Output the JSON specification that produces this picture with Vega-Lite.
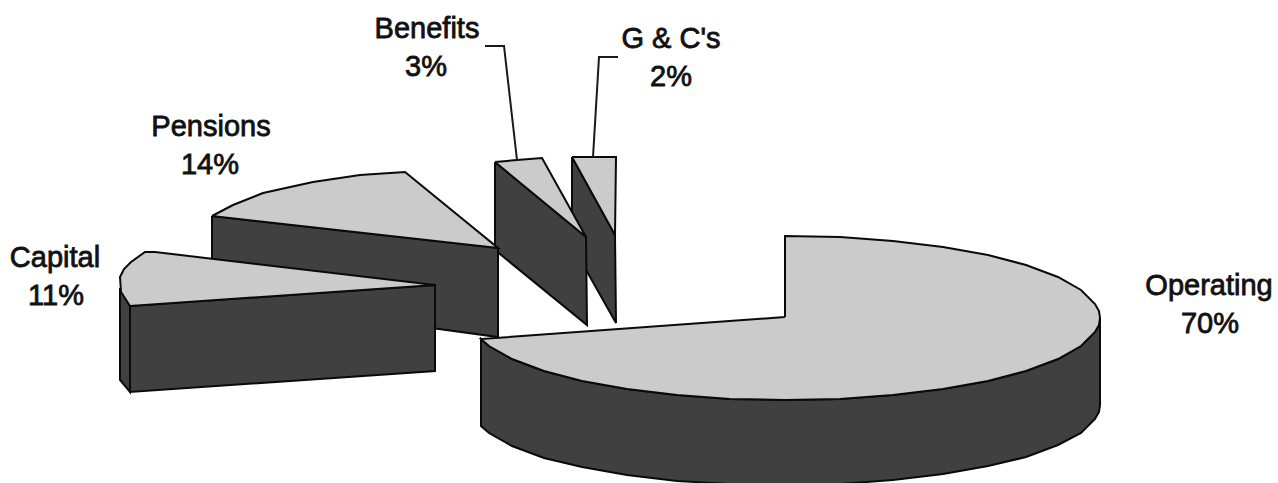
{
  "$schema": "https://vega.github.io/schema/vega-lite/v6.json",
  "width": 1278,
  "height": 483,
  "padding": 0,
  "autosize": {"type": "none"},
  "background": "white",
  "config": {"view": {"stroke": null}},
  "datasets": {
    "faces": [
      {"piece":"gc-side","face":"side","i":0,"x":572,"y":157},{"piece":"gc-side","face":"side","i":1,"x":615,"y":235},{"piece":"gc-side","face":"side","i":2,"x":616,"y":323},{"piece":"gc-side","face":"side","i":3,"x":572,"y":245},{"piece":"gc-side","face":"side","i":4,"x":572,"y":157},
      {"piece":"gc-top","face":"top","i":0,"x":572,"y":157},{"piece":"gc-top","face":"top","i":1,"x":616,"y":157},{"piece":"gc-top","face":"top","i":2,"x":615,"y":235},{"piece":"gc-top","face":"top","i":3,"x":572,"y":157},
      {"piece":"ben-side","face":"side","i":0,"x":495,"y":162},{"piece":"ben-side","face":"side","i":1,"x":586,"y":237},{"piece":"ben-side","face":"side","i":2,"x":587,"y":325},{"piece":"ben-side","face":"side","i":3,"x":495,"y":250},{"piece":"ben-side","face":"side","i":4,"x":495,"y":162},
      {"piece":"ben-top","face":"top","i":0,"x":495,"y":162},{"piece":"ben-top","face":"top","i":1,"x":517,"y":160},{"piece":"ben-top","face":"top","i":2,"x":542,"y":158},{"piece":"ben-top","face":"top","i":3,"x":586,"y":237},{"piece":"ben-top","face":"top","i":4,"x":495,"y":162},
      {"piece":"pen-side","face":"side","i":0,"x":212,"y":216},{"piece":"pen-side","face":"side","i":1,"x":498,"y":248},{"piece":"pen-side","face":"side","i":2,"x":498,"y":337},{"piece":"pen-side","face":"side","i":3,"x":212,"y":298},{"piece":"pen-side","face":"side","i":4,"x":212,"y":216},
      {"piece":"pen-top","face":"top","i":0,"x":212,"y":216},{"piece":"pen-top","face":"top","i":1,"x":233,"y":205},{"piece":"pen-top","face":"top","i":2,"x":263,"y":193},{"piece":"pen-top","face":"top","i":3,"x":313,"y":182},{"piece":"pen-top","face":"top","i":4,"x":360,"y":175},{"piece":"pen-top","face":"top","i":5,"x":405,"y":172},{"piece":"pen-top","face":"top","i":6,"x":498,"y":248},{"piece":"pen-top","face":"top","i":7,"x":212,"y":216},
      {"piece":"cap-rim","face":"side","i":0,"x":120,"y":288},{"piece":"cap-rim","face":"side","i":1,"x":130,"y":306},{"piece":"cap-rim","face":"side","i":2,"x":130,"y":392},{"piece":"cap-rim","face":"side","i":3,"x":120,"y":380},{"piece":"cap-rim","face":"side","i":4,"x":120,"y":288},
      {"piece":"cap-front","face":"side","i":0,"x":130,"y":306},{"piece":"cap-front","face":"side","i":1,"x":435,"y":285},{"piece":"cap-front","face":"side","i":2,"x":435,"y":371},{"piece":"cap-front","face":"side","i":3,"x":130,"y":392},{"piece":"cap-front","face":"side","i":4,"x":130,"y":306},
      {"piece":"cap-top","face":"top","i":0,"x":435,"y":285},{"piece":"cap-top","face":"top","i":1,"x":130,"y":306},{"piece":"cap-top","face":"top","i":2,"x":121,"y":292},{"piece":"cap-top","face":"top","i":3,"x":120,"y":277},{"piece":"cap-top","face":"top","i":4,"x":124,"y":269},{"piece":"cap-top","face":"top","i":5,"x":131,"y":262},{"piece":"cap-top","face":"top","i":6,"x":145,"y":252},{"piece":"cap-top","face":"top","i":7,"x":155,"y":252},{"piece":"cap-top","face":"top","i":8,"x":435,"y":285},
      {"piece":"op-side","face":"side","i":0,"x":1100,"y":318},{"piece":"op-side","face":"side","i":1,"x":1099,"y":325},{"piece":"op-side","face":"side","i":2,"x":1095,"y":332},{"piece":"op-side","face":"side","i":3,"x":1081,"y":346},{"piece":"op-side","face":"side","i":4,"x":1058,"y":359},{"piece":"op-side","face":"side","i":5,"x":1026,"y":371},{"piece":"op-side","face":"side","i":6,"x":988,"y":381},{"piece":"op-side","face":"side","i":7,"x":943,"y":389},{"piece":"op-side","face":"side","i":8,"x":893,"y":395},{"piece":"op-side","face":"side","i":9,"x":840,"y":399},{"piece":"op-side","face":"side","i":10,"x":785,"y":400},{"piece":"op-side","face":"side","i":11,"x":730,"y":399},{"piece":"op-side","face":"side","i":12,"x":677,"y":395},{"piece":"op-side","face":"side","i":13,"x":627,"y":389},{"piece":"op-side","face":"side","i":14,"x":582,"y":381},{"piece":"op-side","face":"side","i":15,"x":544,"y":371},{"piece":"op-side","face":"side","i":16,"x":512,"y":359},{"piece":"op-side","face":"side","i":17,"x":489,"y":346},{"piece":"op-side","face":"side","i":18,"x":481,"y":339},
      {"piece":"op-side","face":"side","i":19,"x":481,"y":426},{"piece":"op-side","face":"side","i":20,"x":489,"y":433},{"piece":"op-side","face":"side","i":21,"x":512,"y":446},{"piece":"op-side","face":"side","i":22,"x":544,"y":458},{"piece":"op-side","face":"side","i":23,"x":582,"y":467},{"piece":"op-side","face":"side","i":24,"x":627,"y":475},{"piece":"op-side","face":"side","i":25,"x":677,"y":481},{"piece":"op-side","face":"side","i":26,"x":730,"y":484},{"piece":"op-side","face":"side","i":27,"x":785,"y":485},{"piece":"op-side","face":"side","i":28,"x":840,"y":484},{"piece":"op-side","face":"side","i":29,"x":893,"y":480},{"piece":"op-side","face":"side","i":30,"x":943,"y":474},{"piece":"op-side","face":"side","i":31,"x":988,"y":466},{"piece":"op-side","face":"side","i":32,"x":1026,"y":457},{"piece":"op-side","face":"side","i":33,"x":1058,"y":445},{"piece":"op-side","face":"side","i":34,"x":1081,"y":433},{"piece":"op-side","face":"side","i":35,"x":1095,"y":419},{"piece":"op-side","face":"side","i":36,"x":1099,"y":412},{"piece":"op-side","face":"side","i":37,"x":1100,"y":405},{"piece":"op-side","face":"side","i":38,"x":1100,"y":318},
      {"piece":"op-top","face":"top","i":0,"x":785,"y":317},{"piece":"op-top","face":"top","i":1,"x":785,"y":236},{"piece":"op-top","face":"top","i":2,"x":840,"y":237},{"piece":"op-top","face":"top","i":3,"x":893,"y":241},{"piece":"op-top","face":"top","i":4,"x":943,"y":247},{"piece":"op-top","face":"top","i":5,"x":988,"y":255},{"piece":"op-top","face":"top","i":6,"x":1026,"y":265},{"piece":"op-top","face":"top","i":7,"x":1058,"y":277},{"piece":"op-top","face":"top","i":8,"x":1081,"y":290},{"piece":"op-top","face":"top","i":9,"x":1095,"y":304},{"piece":"op-top","face":"top","i":10,"x":1099,"y":311},{"piece":"op-top","face":"top","i":11,"x":1100,"y":318},{"piece":"op-top","face":"top","i":12,"x":1099,"y":325},{"piece":"op-top","face":"top","i":13,"x":1095,"y":332},{"piece":"op-top","face":"top","i":14,"x":1081,"y":346},{"piece":"op-top","face":"top","i":15,"x":1058,"y":359},{"piece":"op-top","face":"top","i":16,"x":1026,"y":371},{"piece":"op-top","face":"top","i":17,"x":988,"y":381},{"piece":"op-top","face":"top","i":18,"x":943,"y":389},{"piece":"op-top","face":"top","i":19,"x":893,"y":395},{"piece":"op-top","face":"top","i":20,"x":840,"y":399},{"piece":"op-top","face":"top","i":21,"x":785,"y":400},{"piece":"op-top","face":"top","i":22,"x":730,"y":399},{"piece":"op-top","face":"top","i":23,"x":677,"y":395},{"piece":"op-top","face":"top","i":24,"x":627,"y":389},{"piece":"op-top","face":"top","i":25,"x":582,"y":381},{"piece":"op-top","face":"top","i":26,"x":544,"y":371},{"piece":"op-top","face":"top","i":27,"x":512,"y":359},{"piece":"op-top","face":"top","i":28,"x":489,"y":346},{"piece":"op-top","face":"top","i":29,"x":481,"y":339},{"piece":"op-top","face":"top","i":30,"x":785,"y":317}
    ],
    "leaders": [
      {"slice":"Benefits","i":0,"x":485,"y":46},{"slice":"Benefits","i":1,"x":504,"y":46},{"slice":"Benefits","i":2,"x":517,"y":160},
      {"slice":"G & C's","i":0,"x":618,"y":57},{"slice":"G & C's","i":1,"x":599,"y":57},{"slice":"G & C's","i":2,"x":593,"y":157}
    ],
    "labels": [
      {"text":"Benefits","x":427,"y":29},{"text":"3%","x":426,"y":67},
      {"text":"G & C's","x":671,"y":39},{"text":"2%","x":671,"y":77},
      {"text":"Pensions","x":211,"y":127},{"text":"14%","x":210,"y":165},
      {"text":"Capital","x":55,"y":258},{"text":"11%","x":56,"y":296},
      {"text":"Operating","x":1209,"y":286},{"text":"70%","x":1210,"y":324}
    ]
  },
  "layer": [
    {
      "data": {"name": "faces"},
      "mark": {"type": "line", "filled": true, "stroke": "#0a0a0a", "strokeWidth": 2, "strokeJoin": "miter", "clip": true},
      "encoding": {
        "x": {"field": "x", "type": "quantitative", "scale": {"domain": [0, 1278]}, "axis": null},
        "y": {"field": "y", "type": "quantitative", "scale": {"domain": [483, 0]}, "axis": null},
        "detail": {"field": "piece"},
        "order": {"field": "i", "type": "quantitative"},
        "fill": {"field": "face", "type": "nominal", "scale": {"domain": ["top", "side"], "range": ["#cbcbcb", "#404040"]}, "legend": null}
      }
    },
    {
      "data": {"name": "leaders"},
      "mark": {"type": "line", "stroke": "#1a1a1a", "strokeWidth": 2},
      "encoding": {
        "x": {"field": "x", "type": "quantitative", "scale": {"domain": [0, 1278]}, "axis": null},
        "y": {"field": "y", "type": "quantitative", "scale": {"domain": [483, 0]}, "axis": null},
        "detail": {"field": "slice"},
        "order": {"field": "i", "type": "quantitative"}
      }
    },
    {
      "data": {"name": "labels"},
      "mark": {"type": "text", "font": "Liberation Sans", "fontSize": 29, "align": "center", "baseline": "middle", "fill": "#111111", "stroke": "#111111", "strokeWidth": 0.8},
      "encoding": {
        "x": {"field": "x", "type": "quantitative", "scale": {"domain": [0, 1278]}, "axis": null},
        "y": {"field": "y", "type": "quantitative", "scale": {"domain": [483, 0]}, "axis": null},
        "text": {"field": "text"}
      }
    }
  ]
}
